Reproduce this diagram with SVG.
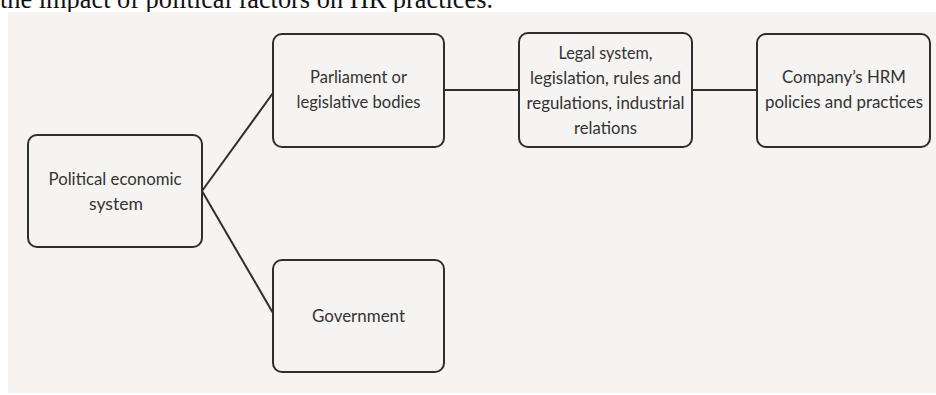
<svg xmlns="http://www.w3.org/2000/svg" width="936" height="395" viewBox="0 0 936 395">
<style>
.box{fill:#f6f4f2;stroke:#2e2e2e;stroke-width:2}
.lbl{font-family:Lato,"Liberation Sans",sans-serif;font-size:16.5px;fill:#333333;text-anchor:middle}
.con{stroke:#2e2e2e;stroke-width:2;fill:none}
.title{font-family:"Liberation Serif",serif;font-size:26.3px;fill:#111}
</style>
<rect x="0" y="0" width="936" height="395" fill="#ffffff"/>
<text class="title" x="0" y="8" textLength="493" lengthAdjust="spacingAndGlyphs">the impact of political factors on HR practices.</text>
<rect x="8" y="12" width="928" height="381" fill="#f6f3f0"/>
<g id="connectors">
<line class="con" x1="202" y1="191" x2="273" y2="93"/>
<line class="con" x1="202" y1="191" x2="273" y2="313"/>
<line class="con" x1="444" y1="90" x2="519" y2="90"/>
<line class="con" x1="692" y1="90" x2="757" y2="90"/>
</g>
<g id="political">
<rect class="box" x="28" y="135" width="174" height="112" rx="9"/>
<text class="lbl" x="115" y="185" textLength="133" lengthAdjust="spacingAndGlyphs">Political economic</text>
<text class="lbl" x="116" y="210" textLength="54" lengthAdjust="spacingAndGlyphs">system</text>
</g>
<g id="parliament">
<rect class="box" x="273" y="34" width="171" height="113" rx="9"/>
<text class="lbl" x="358.5" y="83" textLength="97" lengthAdjust="spacingAndGlyphs">Parliament or</text>
<text class="lbl" x="358.5" y="108" textLength="124" lengthAdjust="spacingAndGlyphs">legislative bodies</text>
</g>
<g id="government">
<rect class="box" x="273" y="260" width="171" height="112" rx="9"/>
<text class="lbl" x="358.5" y="322" textLength="93" lengthAdjust="spacingAndGlyphs">Government</text>
</g>
<g id="legal">
<rect class="box" x="519" y="33" width="173" height="114" rx="9"/>
<text class="lbl" x="605.5" y="59" textLength="94" lengthAdjust="spacingAndGlyphs">Legal system,</text>
<text class="lbl" x="605.5" y="84" textLength="151" lengthAdjust="spacingAndGlyphs">legislation, rules and</text>
<text class="lbl" x="605.5" y="109" textLength="158" lengthAdjust="spacingAndGlyphs">regulations, industrial</text>
<text class="lbl" x="605.5" y="134" textLength="63" lengthAdjust="spacingAndGlyphs">relations</text>
</g>
<g id="company">
<rect class="box" x="757" y="34" width="173" height="113" rx="9"/>
<text class="lbl" x="844" y="83" textLength="124" lengthAdjust="spacingAndGlyphs">Company’s HRM</text>
<text class="lbl" x="844" y="108" textLength="158" lengthAdjust="spacingAndGlyphs">policies and practices</text>
</g>
</svg>
